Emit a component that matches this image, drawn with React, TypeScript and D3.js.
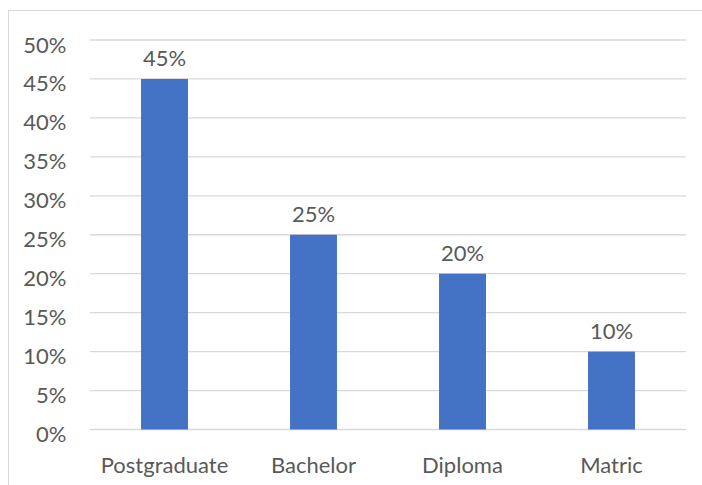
import React from "react";
import * as d3 from "d3";

const categories = ["Postgraduate", "Bachelor", "Diploma", "Matric"];
const values = [0.45, 0.25, 0.2, 0.1];
const yTicks = [0, 0.05, 0.1, 0.15, 0.2, 0.25, 0.3, 0.35, 0.4, 0.45, 0.5];

const W = 702;
const H = 485;
const FONT = "Lato, 'Open Sans', sans-serif";
const TEXT = "#595959";
const FS = 22;

export default function App() {
  const x = d3.scaleBand<string>().domain(categories).range([90, 686]).padding(0);
  const y = d3.scaleLinear().domain([0, 0.5]).range([429.5, 40]);
  const bw = x.bandwidth() * 0.315;
  const fmt = d3.format(".0%");
  return (
    <svg width={W} height={H} style={{ position: "absolute", left: 0, top: 0 }}>
      <rect x={0} y={0} width={W} height={H} fill="#fff" />
      <rect x={8.5} y={10.5} width={W} height={H} fill="none" stroke="#D9D9D9" strokeWidth={1} />
      {yTicks.map((t) => (
        <g key={t}>
          <line x1={90} x2={686} y1={y(t)} y2={y(t)} stroke="#D9D9D9" strokeWidth={1.3} />
          <text x={66.5} y={y(t) + 12.5} textAnchor="end" fontFamily={FONT} fontSize={FS} fill={TEXT}>
            {fmt(t)}
          </text>
        </g>
      ))}
      {categories.map((c, i) => {
        const cx = (x(c) as number) + x.bandwidth() / 2;
        return (
          <g key={c}>
            <rect x={cx - bw / 2} y={y(values[i])} width={bw} height={y(0) - y(values[i])} fill="#4472C4" />
            <text x={cx} y={y(values[i]) - 12.5} textAnchor="middle" fontFamily={FONT} fontSize={FS} fill={TEXT}>
              {fmt(values[i])}
            </text>
            <text x={cx} y={472.5} textAnchor="middle" fontFamily={FONT} fontSize={FS} fill={TEXT}>
              {c}
            </text>
          </g>
        );
      })}
    </svg>
  );
}
